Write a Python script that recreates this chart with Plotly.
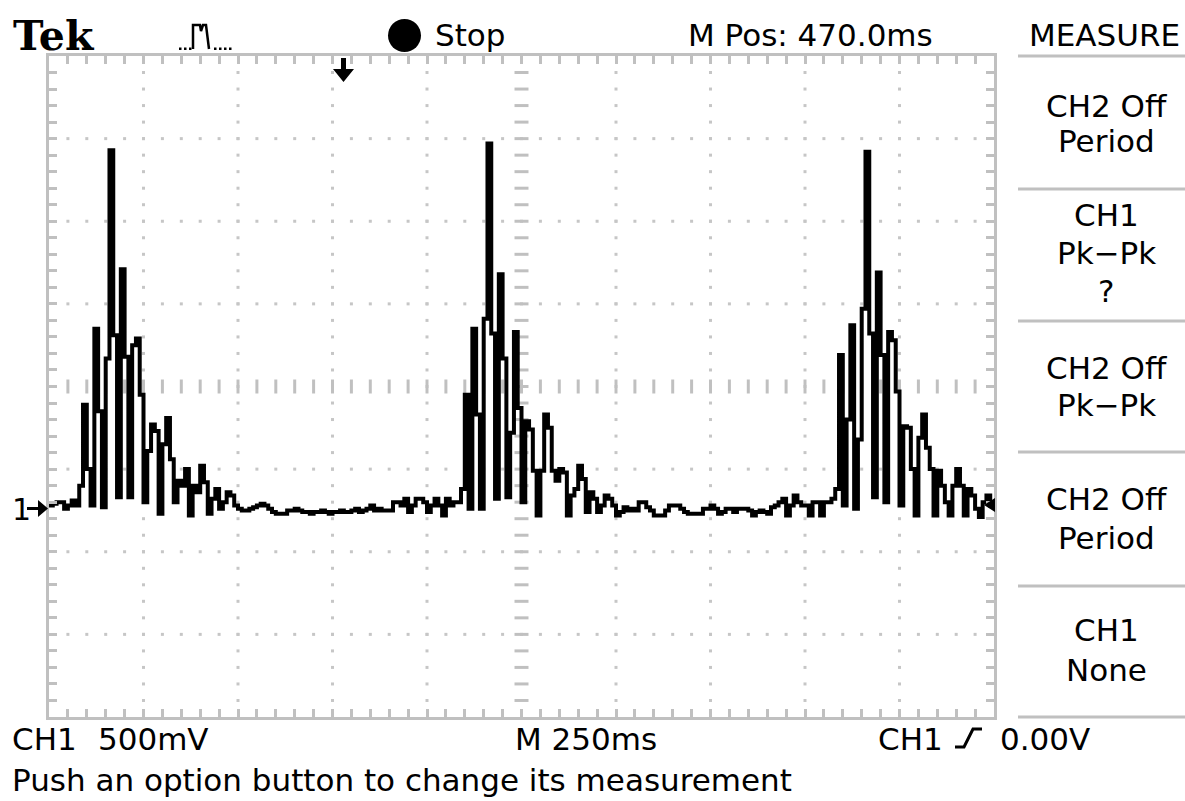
import plotly.graph_objects as go

W, H = 1185, 801

# ---- scope settings -------------------------------------------------------
VOLTS_PER_DIV = 0.5
MS_PER_DIV = 250
SAMPLE_MS = 10
GROUND_OFFSET_DIV = 1.44      # CH1 ground marker sits this far below centre
X_DIVS, Y_DIVS = 10, 8

# ---- CH1 trace (volts, one value per 10 ms display column) -----------------
lead_in = [0.00, 0.01, 0.02, 0.02, -0.02, 0.00, 0.03, 0.00]
burst_1 = [0.12, 0.61, 0.22, 0.00, 1.07, 0.57, -0.01, 0.89, 2.15, 1.03,
           0.05, 1.43, 0.90, 0.05, 0.97, 1.01, 0.67, 0.02, 0.33, 0.49,
           0.45, -0.05, 0.37, 0.53, 0.28, 0.02, 0.15, 0.12, 0.22, -0.06,
           0.12, 0.08, 0.24, 0.14, -0.05, 0.04, 0.10, -0.02, 0.02, 0.08,
           0.06, 0.00]
quiet_1 = [-0.02, -0.03, -0.03, -0.02, -0.01, 0.00, 0.01, 0.00, -0.02, -0.04,
           -0.05, -0.05, -0.05, -0.03, -0.03, -0.02, -0.03, -0.04, -0.04, -0.05,
           -0.04, -0.04, -0.03, -0.04, -0.05, -0.04, -0.04, -0.03, -0.04, -0.04,
           -0.03, -0.02, -0.04, -0.03, -0.02, 0.00, -0.03, -0.02,
           -0.03, -0.03, -0.03, 0.02, 0.02, 0.00, 0.04, -0.04, 0.00, 0.04,
           0.04, 0.02, -0.04, 0.00, 0.04, 0.00, -0.06, 0.04, 0.00, 0.02]
burst_2 = [0.02, 0.10, 0.67, -0.02, 1.07, 0.55, -0.02, 1.13, 2.19, 1.04,
           0.04, 1.40, 0.89, 0.05, 0.44, 1.05, 0.59, 0.02, 0.51, 0.46,
           0.21, -0.06, 0.21, 0.55, 0.47, 0.21, 0.15, 0.22, 0.20, -0.06,
           0.06, 0.10, 0.24, 0.16, -0.04, 0.08, 0.04, -0.04, 0.00, 0.06,
           0.04, 0.00, -0.06]
quiet_2 = [-0.04, -0.01, -0.03, -0.02, -0.03, 0.02, 0.02, -0.01, -0.03, -0.06,
           -0.06, -0.06, -0.03, 0.00, 0.00, 0.00, -0.02, -0.04, -0.05, -0.05,
           -0.05, -0.05, -0.02, -0.02, 0.00, -0.02, -0.05, -0.04, -0.02, -0.02,
           -0.04, -0.02, -0.02, -0.02, -0.03, -0.06, -0.04, -0.03, -0.04, -0.05,
           -0.01, 0.00, 0.02, 0.04, -0.06, 0.00, 0.06, 0.02, 0.00, 0.00,
           -0.06, 0.02, 0.02, -0.06, 0.02, 0.02, 0.04]
burst_3 = [0.10, 0.91, 0.00, 0.52, 1.09, -0.02, 0.40, 1.19, 2.14, 1.04,
           0.05, 1.41, 0.91, 0.02, 1.05, 1.00, 0.69, 0.00, 0.48, 0.47,
           0.22, -0.06, 0.41, 0.55, 0.35, 0.22, -0.06, 0.21, 0.12, 0.02,
           -0.06, 0.12, 0.22, 0.12, -0.06, 0.10, 0.06, -0.02, -0.07, 0.02,
           0.06, 0.00]

volts = lead_in + burst_1 + quiet_1 + burst_2 + quiet_2 + burst_3
t_ms = [i * SAMPLE_MS for i in range(len(volts))]
t_plot = t_ms + [len(volts) * SAMPLE_MS]
v_plot = volts + [volts[-1]]

# ---- screen text ----------------------------------------------------------
header_mode = "Stop"
header_pos = "M Pos: 470.0ms"
menu_title = "MEASURE"
menu_items = [["CH2 Off", "Period"], ["CH1", "Pk\u2212Pk", "?"],
              ["CH2 Off", "Pk\u2212Pk"], ["CH2 Off", "Period"],
              ["CH1", "None"]]
footer_ch = ["CH1", "500mV"]
footer_time = "M 250ms"
footer_trig = ["CH1", "0.00V"]
footer_msg = "Push an option button to change its measurement"

# ---- geometry (pixels) ----------------------------------------------------
GX0, GX1, GY0, GY1 = 49, 994, 56, 717
GRID = "#c0c0c0"
DOT = "#c6c6c6"
SANS = "DejaVu Sans"

y_center = GROUND_OFFSET_DIV * VOLTS_PER_DIV
y_lo = y_center - Y_DIVS / 2 * VOLTS_PER_DIV
y_hi = y_center + Y_DIVS / 2 * VOLTS_PER_DIV
x_hi = X_DIVS * MS_PER_DIV
mx = MS_PER_DIV / 5
my = VOLTS_PER_DIV / 5

fig = go.Figure()

# dotted graticule
dx, dy = [], []
for k in range(1, X_DIVS):
    if k == X_DIVS // 2:
        continue
    for m in range(1, Y_DIVS * 5):
        dx.append(k * MS_PER_DIV)
        dy.append(y_lo + m * my)
for j in range(1, Y_DIVS):
    if j == Y_DIVS // 2:
        continue
    for n in range(1, X_DIVS * 5):
        dx.append(n * mx)
        dy.append(y_lo + j * VOLTS_PER_DIV)
fig.add_trace(go.Scatter(x=dx, y=dy, mode="markers", hoverinfo="skip",
                         marker=dict(symbol="square", size=3, color=DOT,
                                     line=dict(width=0))))
# centre cross with tick marks
fig.add_trace(go.Scatter(
    x=[x_hi / 2] * (Y_DIVS * 5 - 1),
    y=[y_lo + m * my for m in range(1, Y_DIVS * 5)],
    mode="markers", hoverinfo="skip",
    marker=dict(symbol="line-ew", size=10, line=dict(width=3, color=GRID))))
fig.add_trace(go.Scatter(
    x=[n * mx for n in range(1, X_DIVS * 5)],
    y=[y_center] * (X_DIVS * 5 - 1),
    mode="markers", hoverinfo="skip",
    marker=dict(symbol="line-ns", size=10, line=dict(width=3, color=GRID))))

# waveform
fig.add_trace(go.Scatter(x=t_plot, y=v_plot, mode="lines",
                         line=dict(color="black", width=4, shape="hv"),
                         hoverinfo="skip"))


def P(x, y):
    return f"{x / W:.5f},{1 - y / H:.5f}"


def path(pts, close=False):
    s = "M " + " L ".join(P(x, y) for x, y in pts)
    return s + (" Z" if close else "")


def txt(s, x, y, size=31, xanchor="left", family=SANS, color="black"):
    return dict(text=s, x=x / W, y=1 - y / H, xref="paper", yref="paper",
                xanchor=xanchor, yanchor="middle", showarrow=False,
                font=dict(family=family, size=size, color=color))


ann = []
ann.append(txt("<b>Tek</b>", 11, 36, size=41, family="DejaVu Serif"))
ann.append(txt(header_mode, 433, 35))
ann.append(txt(header_pos, 686, 35))
ann.append(txt(menu_title, 1104, 35, xanchor="center"))
menu_centres = [[106, 141], [215, 253, 291], [368, 405], [499, 538], [630, 670]]
for lines, ys in zip(menu_items, menu_centres):
    for s, y in zip(lines, ys):
        ann.append(txt(s, 1106, y, xanchor="center"))
ann.append(txt(footer_ch[0], 10, 739))
ann.append(txt(footer_ch[1], 96, 739))
ann.append(txt(footer_time, 513, 739))
ann.append(txt(footer_trig[0], 876, 739))
ann.append(txt(footer_trig[1], 998, 739))
ann.append(txt(footer_msg, 10, 780))
ann.append(txt("1", 10, 509, size=30))

shapes = []
for y in [56, 189, 321, 452, 586, 717]:
    shapes.append(dict(type="line", xref="paper", yref="paper",
                       x0=1018 / W, x1=1, y0=1 - y / H, y1=1 - y / H,
                       line=dict(color=GRID, width=3)))
# run/stop dot
shapes.append(dict(type="circle", xref="paper", yref="paper",
                   x0=388 / W, x1=421 / W, y0=1 - 52 / H, y1=1 - 19 / H,
                   fillcolor="black", line=dict(width=0)))
# trigger position arrow
shapes.append(dict(type="path", xref="paper", yref="paper",
                   path=path([(341, 58), (346, 58), (346, 69), (354, 69),
                              (343.5, 82), (333, 69), (341, 69)], True),
                   fillcolor="black", line=dict(width=0)))
# ground marker arrow
shapes.append(dict(type="path", xref="paper", yref="paper",
                   path=path([(27, 507), (38, 507), (38, 500), (48, 508.5),
                              (38, 517), (38, 510), (27, 510)], True),
                   fillcolor="black", line=dict(width=0)))
# trigger level marker
shapes.append(dict(type="path", xref="paper", yref="paper",
                   path=path([(984, 505), (995, 498), (995, 512)], True),
                   fillcolor="black", line=dict(width=0)))
# slope symbol
shapes.append(dict(type="path", xref="paper", yref="paper",
                   path=path([(955, 747), (964, 747), (973, 729), (982, 729)]),
                   line=dict(color="black", width=3)))
# acquisition icon
shapes.append(dict(type="path", xref="paper", yref="paper",
                   path=path([(193, 49), (193, 25), (200, 25), (201, 31),
                              (203, 25), (206, 25), (209, 49)]),
                   line=dict(color="black", width=2.5)))
for x in [179, 184, 189, 214, 219, 224, 229]:
    shapes.append(dict(type="rect", xref="paper", yref="paper",
                       x0=x / W, x1=(x + 2.5) / W, y0=1 - 50 / H, y1=1 - 47.5 / H,
                       fillcolor="black", line=dict(width=0)))

axis_common = dict(showline=True, linecolor=GRID, linewidth=3, mirror="ticks",
                   ticks="inside", ticklen=8, tickwidth=3, tickcolor=GRID,
                   showticklabels=False, showgrid=False, zeroline=False,
                   fixedrange=True)
fig.update_layout(
    width=W, height=H, margin=dict(l=0, r=0, t=0, b=0),
    paper_bgcolor="white", plot_bgcolor="white", showlegend=False,
    xaxis=dict(domain=[GX0 / W, GX1 / W], range=[0, x_hi], dtick=mx, tick0=0,
               **axis_common),
    yaxis=dict(domain=[1 - GY1 / H, 1 - GY0 / H], range=[y_lo, y_hi], dtick=my,
               tick0=y_lo, **axis_common),
    annotations=ann, shapes=shapes,
)
fig.write_html("out.html", config={"displayModeBar": False},
               post_script="document.body.style.margin='0px';"
                           "document.body.style.overflow='hidden';")
